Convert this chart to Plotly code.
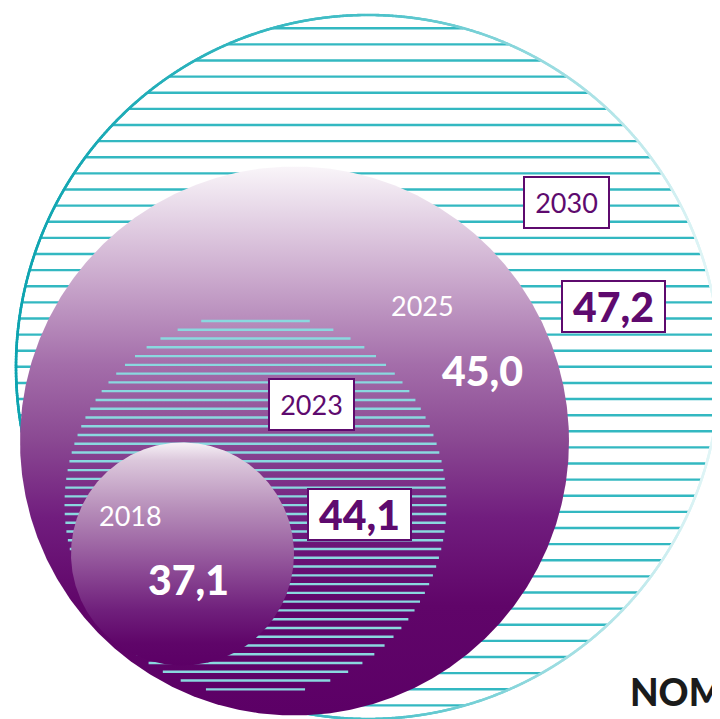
import numpy as np
import plotly.graph_objects as go

# ---- data ----
years = ["2018", "2023", "2025", "2030"]
values = [37.1, 44.1, 45.0, 47.2]
footer_text = "NOM"

# ---- layout geometry (page pixels, y grows downward) ----
PAGE_W, PAGE_H = 720, 719
OFF = 8  # default body margin of the html page
geom = {
    "2030": dict(cx=368, cy=367, r=352),
    "2025": dict(cx=294.5, cy=441, r=274.5),
    "2023": dict(cx=255.5, cy=504.5, r=191.5),
    "2018": dict(cx=182.5, cy=554, r=111.5),
}
# hatch style for striped circles: first stripe offset, spacing, width, colour
hatch = {
    "2030": dict(first=28.3, step=16.12, width=2.4, color="#33b8c1"),
    "2023": dict(first=321.0, step=8.77, width=2.4, color="#8ad8df"),
}
year_pos = {"2030": (566, 202), "2025": (422, 305), "2023": (311.5, 404.5), "2018": (130, 515)}
value_pos = {"2030": (613.5, 306), "2025": (482, 370), "2023": (359, 514), "2018": (188, 579)}
boxed = {"2030", "2023"}

PURPLE = "#5e0a6e"
FONT = "Lato"


def circle_xy(g, n=721):
    t = np.linspace(0, 2 * np.pi, n)
    return g["cx"] + g["r"] * np.cos(t), g["cy"] + g["r"] * np.sin(t)


def hatch_xy(g, h):
    xs, ys = [], []
    yv = h["first"]
    while yv < g["cy"] + g["r"]:
        d = yv - g["cy"]
        if abs(d) < g["r"]:
            hw = np.sqrt(g["r"] ** 2 - d ** 2) - 0.5
            xs += [g["cx"] - hw, g["cx"] + hw, None]
            ys += [yv, yv, None]
        yv += h["step"]
    return xs, ys


fig = go.Figure()

# 2030: striped teal circle
xs, ys = hatch_xy(geom["2030"], hatch["2030"])
fig.add_trace(go.Scatter(x=xs, y=ys, mode="lines",
                         line=dict(width=hatch["2030"]["width"], color=hatch["2030"]["color"]),
                         hoverinfo="skip", showlegend=False))

# 2030 outline, fading from dark teal (left) to pale (right)
xo, yo = circle_xy(geom["2030"], n=3000)
fig.add_trace(go.Scatter(
    x=xo, y=yo, mode="markers",
    marker=dict(size=2.6, color=xo, cmin=geom["2030"]["cx"] - geom["2030"]["r"],
                cmax=geom["2030"]["cx"] + geom["2030"]["r"],
                colorscale=[[0, "#0ea4b0"], [0.5, "#48c0c8"], [0.8, "#a6e0e4"], [1, "#e6f7f8"]],
                line=dict(width=0)),
    hoverinfo="skip", showlegend=False))

# 2025: purple gradient disc
g = geom["2025"]
x, y = circle_xy(g)
fig.add_trace(go.Scatter(
    x=x, y=y, mode="lines", fill="toself", line=dict(width=0, color="rgba(0,0,0,0)"),
    fillgradient=dict(type="vertical", start=g["cy"] - g["r"], stop=g["cy"] + g["r"],
                      colorscale=[[0, "#f9f5f9"], [0.18, "#d0b2d2"], [0.36, "#a46eaa"],
                                  [0.5, "#8a4892"], [0.64, "#711d7e"], [0.8, "#600569"],
                                  [1, "#5c0066"]]),
    hoverinfo="skip", showlegend=False))

# 2023: light-blue stripes over the purple
xs, ys = hatch_xy(geom["2023"], hatch["2023"])
fig.add_trace(go.Scatter(x=xs, y=ys, mode="lines",
                         line=dict(width=hatch["2023"]["width"], color=hatch["2023"]["color"]),
                         hoverinfo="skip", showlegend=False))

# 2018: small purple gradient disc
g = geom["2018"]
x, y = circle_xy(g)
fig.add_trace(go.Scatter(
    x=x, y=y, mode="lines", fill="toself", line=dict(width=0, color="rgba(0,0,0,0)"),
    fillgradient=dict(type="vertical", start=g["cy"] - g["r"], stop=g["cy"] + g["r"],
                      colorscale=[[0, "#f7f2f7"], [0.08, "#dcc8dc"], [0.3, "#b68db9"],
                                  [0.53, "#93559b"], [0.75, "#70207c"], [0.9, "#5f0569"],
                                  [1, "#5c0066"]]),
    hoverinfo="skip", showlegend=False))

# ---- labels ----
annotations = []
for yr, v in zip(years, values):
    txt = f"{v:.1f}".replace(".", ",")
    yx, yy = year_pos[yr]
    vx, vy = value_pos[yr]
    if yr in boxed:
        annotations.append(dict(x=yx, y=yy, text=yr, showarrow=False,
                                font=dict(family=FONT, size=27, color=PURPLE, weight=400),
                                bgcolor="white", bordercolor=PURPLE, borderwidth=2, borderpad=0,
                                width=83, height=49))
        annotations.append(dict(x=vx, y=vy, text=txt, showarrow=False,
                                font=dict(family=FONT, size=41, color=PURPLE, weight=900),
                                bgcolor="white", bordercolor=PURPLE, borderwidth=2, borderpad=0,
                                width=101, height=49))
    else:
        annotations.append(dict(x=yx, y=yy, text=yr, showarrow=False,
                                font=dict(family=FONT, size=27, color="white", weight=400)))
        annotations.append(dict(x=vx, y=vy, text=txt, showarrow=False,
                                font=dict(family=FONT, size=41, color="white", weight=900)))

annotations.append(dict(x=628, y=691, xanchor="left", text=footer_text, showarrow=False,
                        font=dict(family=FONT, size=37, color="#1b1b1b", weight=900)))

fig.update_layout(
    width=PAGE_W - OFF, height=PAGE_H - OFF, margin=dict(l=0, r=0, t=0, b=0),
    paper_bgcolor="white", plot_bgcolor="white",
    xaxis=dict(range=[OFF, PAGE_W], visible=False, fixedrange=True),
    yaxis=dict(range=[PAGE_H, OFF], visible=False, fixedrange=True),
    annotations=annotations, showlegend=False,
)

fig.write_html("out.html", config={"displayModeBar": False})
